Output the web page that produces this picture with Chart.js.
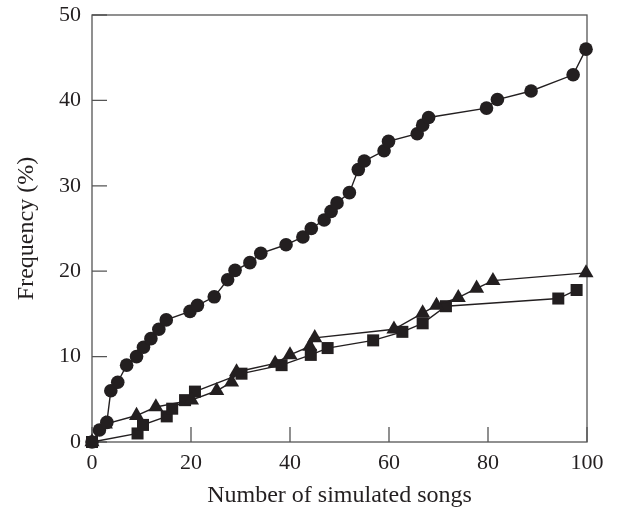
<!DOCTYPE html>
<html><head><meta charset="utf-8">
<script src="https://cdn.jsdelivr.net/npm/chart.js@4.4.0/dist/chart.umd.min.js"></script>
<style>html,body{margin:0;padding:0;background:#fff}</style>
</head><body>
<canvas id="c" width="618" height="509" style="display:block;width:618px;height:509px"></canvas>
<script>
// Tick values
const xTickValues = [0, 20, 40, 60, 80, 100];
const yTickValues = [0, 10, 20, 30, 40, 50];

// Circle series
const circleX = [0, 1.5, 3, 3.8, 5.2, 7, 9, 10.4, 11.9, 13.5, 15, 19.8, 21.3, 24.7, 27.4, 28.9, 31.9, 34.1, 39.2, 42.6, 44.3, 46.9, 48.3, 49.5, 52, 53.8, 55, 59, 59.9, 65.7, 66.8, 68, 79.7, 81.9, 88.7, 97.2, 99.8];
const circleY = [0, 1.4, 2.3, 6, 7, 9, 10, 11.1, 12.1, 13.2, 14.3, 15.3, 16, 17, 19, 20.1, 21, 22.1, 23.1, 24, 25, 26, 27, 28, 29.2, 31.9, 32.9, 34.1, 35.2, 36.1, 37.1, 38, 39.1, 40.1, 41.1, 43, 46];

// Triangle series
const triX = [0, 2.7, 9, 12.9, 20.1, 25.2, 28.2, 29.2, 37, 40, 44, 45, 61, 66.8, 69.6, 74, 77.7, 81, 99.8];
const triY = [0, 2.1, 3.1, 4.1, 4.9, 6, 7, 8.2, 9.2, 10.2, 11.2, 12.2, 13.2, 15.1, 16, 16.9, 18, 18.9, 19.8];

// Square series
const sqX = [0, 9.2, 10.3, 15.1, 16.2, 18.8, 20.8, 30.2, 38.3, 44.2, 47.6, 56.8, 62.7, 66.8, 71.5, 94.2, 97.9];
const sqY = [0, 1, 2, 3, 3.9, 4.9, 5.9, 8, 9, 10.2, 11, 11.9, 12.9, 13.9, 15.9, 16.8, 17.8];

const INK = '#231f20';
const AXIS = '#555555';
const FONT = "'Liberation Serif', 'Times New Roman', serif";

function pts(xs, ys) { return xs.map((x, i) => ({x: x, y: ys[i]})); }

const frame = {
  id: 'frame',
  beforeDatasetsDraw(chart) {
    const {ctx, chartArea: a, scales} = chart;
    ctx.save();
    ctx.strokeStyle = AXIS;
    ctx.lineWidth = 1.3;
    ctx.strokeRect(a.left, a.top, a.right - a.left, a.bottom - a.top);
    ctx.beginPath();
    xTickValues.forEach(v => {
      const px = scales.x.getPixelForValue(v);
      ctx.moveTo(px, a.bottom);
      ctx.lineTo(px, a.bottom - 15);
    });
    yTickValues.forEach(v => {
      const py = scales.y.getPixelForValue(v);
      ctx.moveTo(a.left, py);
      ctx.lineTo(a.left + 15, py);
    });
    ctx.stroke();
    ctx.restore();
  }
};

const common = {
  showLine: true,
  borderColor: INK,
  backgroundColor: INK,
  pointBackgroundColor: INK,
  pointBorderColor: INK,
  borderWidth: 1.4,
  pointBorderWidth: 0,
  clip: false,
  tension: 0
};

new Chart(document.getElementById('c'), {
  type: 'scatter',
  data: {
    datasets: [
      Object.assign({label: 'Circles', data: pts(circleX, circleY), pointStyle: 'circle', pointRadius: 6.8}, common),
      Object.assign({label: 'Triangles', data: pts(triX, triY), pointStyle: 'triangle', pointRadius: 8.7}, common),
      Object.assign({label: 'Squares', data: pts(sqX, sqY), pointStyle: 'rect', pointRadius: 8.5}, common)
    ]
  },
  options: {
    responsive: false,
    animation: false,
    devicePixelRatio: 1,
    layout: {padding: {top: 15, right: 31, bottom: 0, left: 0}},
    plugins: {legend: {display: false}, tooltip: {enabled: false}},
    scales: {
      x: {
        type: 'linear', min: 0, max: 100,
        afterBuildTicks(s) { s.ticks = xTickValues.map(v => ({value: v})); },
        afterFit(s) { s.height = 67; s.paddingLeft = 0; s.paddingRight = 0; },
        grid: {display: false, drawTicks: false},
        border: {display: false},
        ticks: {padding: 8, color: INK, font: {family: FONT, size: 22}},
        title: {display: true, text: 'Number of simulated songs', color: INK,
                font: {family: FONT, size: 24, lineHeight: 1}, padding: {top: 0, bottom: 1}}
      },
      y: {
        type: 'linear', min: 0, max: 50,
        afterBuildTicks(s) { s.ticks = yTickValues.map(v => ({value: v})); },
        afterFit(s) { s.width = 92; s.paddingTop = 0; s.paddingBottom = 0; },
        grid: {display: false, drawTicks: false},
        border: {display: false},
        ticks: {padding: 11, color: INK, font: {family: FONT, size: 22}},
        title: {display: true, text: 'Frequency (%)', color: INK,
                font: {family: FONT, size: 24, lineHeight: 1}, padding: {top: 15, bottom: 0}}
      }
    }
  },
  plugins: [frame]
});
</script>
</body></html>
